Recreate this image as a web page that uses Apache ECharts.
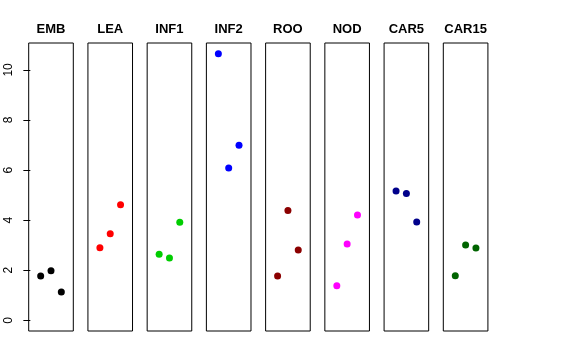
<!DOCTYPE html>
<html>
<head>
<meta charset="utf-8">
<script src="https://cdn.jsdelivr.net/npm/echarts@6/dist/echarts.min.js"></script>
<style>html,body{margin:0;padding:0;background:#fff}#c{width:576px;height:360px}</style>
</head>
<body>
<div id="c"></div>
<script>
var categories = ['EMB', 'LEA', 'INF1', 'INF2', 'ROO', 'NOD', 'CAR5', 'CAR15'];
var replicates = [1, 2, 3];
var EMB = [1.77, 1.98, 1.13];
var LEA = [2.90, 3.46, 4.62];
var INF1 = [2.64, 2.49, 3.92];
var INF2 = [10.65, 6.08, 6.99];
var ROO = [1.77, 4.39, 2.81];
var NOD = [1.38, 3.05, 4.21];
var CAR5 = [5.17, 5.07, 3.93];
var CAR15 = [1.78, 3.01, 2.89];
var yTicks = [0, 2, 4, 6, 8, 10];

var values = [EMB, LEA, INF1, INF2, ROO, NOD, CAR5, CAR15];
var colors = ['#000000', '#FF0000', '#00CD00', '#0000FF', '#8B0000', '#FF00FF', '#00008B', '#006400'];

(function () {
  var chart = echarts.init(document.getElementById('c'), null, {renderer: 'canvas'});
  var left0 = 28.7, step = 59.23, pw = 44.6, gTop = 43, ph = 288;
  var ymin = -0.426, ymax = 11.076;
  var grids = [], xAxes = [], yAxes = [], series = [], graphics = [];
  categories.forEach(function (cat, i) {
    var l = left0 + i * step;
    grids.push({left: l, top: gTop, width: pw, height: ph, show: true, borderColor: '#000', borderWidth: 1, backgroundColor: 'transparent'});
    xAxes.push({type: 'value', gridIndex: i, min: -0.16, max: 4.16, show: false});
    yAxes.push({
      type: 'value', gridIndex: i, min: ymin, max: ymax, show: i === 0,
      splitLine: {show: false},
      axisLine: {show: false},
      axisTick: {show: true, length: 7, customValues: yTicks, lineStyle: {color: '#000'}},
      axisLabel: {show: true, customValues: yTicks, rotate: 90, margin: 14, fontSize: 12, color: '#000', fontFamily: 'Liberation Sans, Arial, sans-serif'}
    });
    series.push({
      type: 'scatter', xAxisIndex: i, yAxisIndex: i,
      symbol: 'circle', symbolSize: 7,
      itemStyle: {color: colors[i], opacity: 1},
      data: replicates.map(function (r, j) { return [r, values[i][j]]; })
    });
    graphics.push({
      type: 'text', x: l + pw / 2, y: 29,
      style: {text: cat, textAlign: 'center', textVerticalAlign: 'middle', fill: '#000',
        font: 'bold 13px "Liberation Sans", Arial, sans-serif'}
    });
  });
  chart.setOption({
    animation: false,
    grid: grids, xAxis: xAxes, yAxis: yAxes, series: series, graphic: graphics
  });
})();
</script>
</body>
</html>
